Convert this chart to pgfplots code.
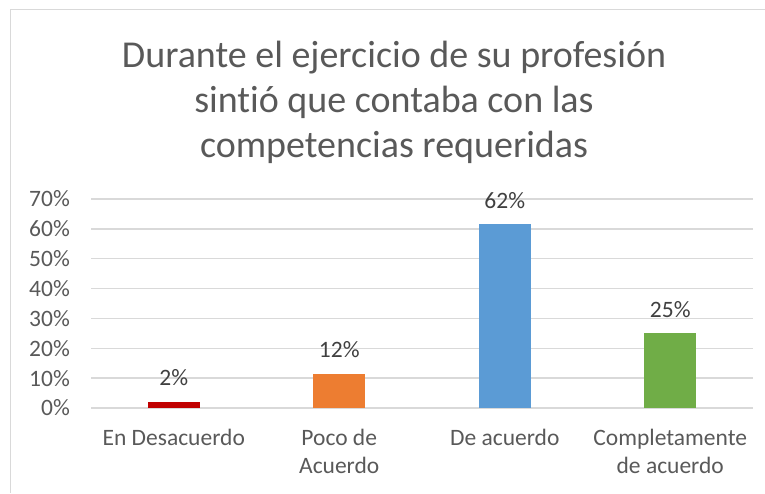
\documentclass[border=0pt]{standalone}
\usepackage{pgfplots}
\pgfplotsset{compat=1.18}
\usepackage{fontspec}
\setmainfont{Carlito}[Ligatures=NoCommon]
\definecolor{txt}{HTML}{595959}
\definecolor{lbl}{HTML}{404040}
\definecolor{gridc}{HTML}{D9D9D9}
\definecolor{cA}{HTML}{C00000}
\definecolor{cB}{HTML}{ED7D31}
\definecolor{cC}{HTML}{5B9BD5}
\definecolor{cD}{HTML}{70AD47}
\begin{document}
\begin{tikzpicture}[x=1pt,y=1pt]
\useasboundingbox (0,0) rectangle (765,493);
\draw[gridc, line width=1.5pt] (10.5,0) -- (10.5,483.5) -- (765,483.5);
\node[text=txt, font=\fontsize{38}{45}\selectfont, align=center] at (394,391) {Durante el ejercicio de su profesión\\sintió que contaba con las\\competencias requeridas};
\begin{axis}[
  at={(91pt,85pt)}, anchor=south west,
  scale only axis, width=662pt, height=209pt,
  xmin=-0.5, xmax=3.5, ymin=0, ymax=70,
  ytick={0,10,...,70},
  yticklabels={0\%,10\%,20\%,30\%,40\%,50\%,60\%,70\%},
  xtick={0,1,2,3},
  xticklabels={En Desacuerdo, Poco de\\Acuerdo, De acuerdo, Completamente\\de acuerdo},
  ymajorgrids,
  grid style={gridc, line width=1.5pt},
  axis line style={draw=none},
  major tick length=0pt,
  tick style={draw=none},
  yticklabel style={anchor=east, inner sep=0pt, xshift=-21pt, text=txt, font=\fontsize{23.5}{28}\selectfont},
  xticklabel style={anchor=north, inner sep=0pt, yshift=-21pt, align=center, text=txt, font=\fontsize{23.5}{28}\selectfont},
  ybar, bar width=52pt, bar shift=0pt,
  nodes near coords,
  point meta=explicit symbolic,
  every node near coord/.append style={anchor=center, yshift=24pt, text=lbl, font=\fontsize{23.5}{28}\selectfont},
  clip=false,
]
\addplot[fill=cA, draw=none] coordinates {(0,2) [2\%]};
\addplot[fill=cB, draw=none] coordinates {(1,11.5) [12\%]};
\addplot[fill=cC, draw=none] coordinates {(2,61.5) [62\%]};
\addplot[fill=cD, draw=none] coordinates {(3,25) [25\%]};
\end{axis}
\end{tikzpicture}
\end{document}
